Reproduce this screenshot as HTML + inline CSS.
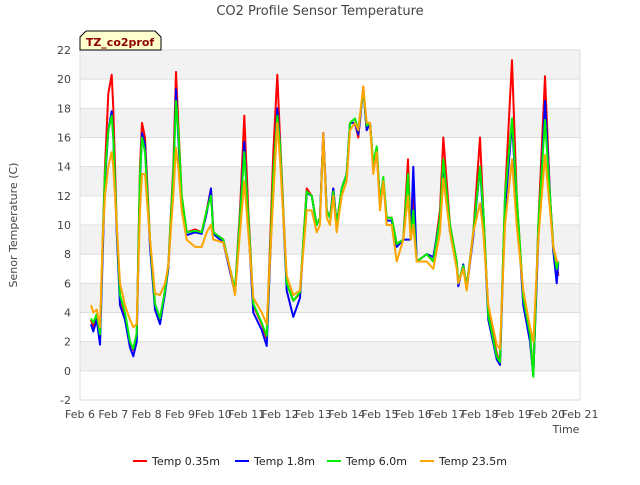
<!DOCTYPE html>
<html><head><meta charset="utf-8"><style>
body{margin:0;background:#fff;}
svg text{font-family:"DejaVu Sans","Liberation Sans",sans-serif;}
</style></head><body>
<svg id="chart" width="640" height="480" viewBox="0 0 640 480" xmlns="http://www.w3.org/2000/svg">
<text x="320" y="15" text-anchor="middle" font-size="13" fill="#444">CO2 Profile Sensor Temperature</text>
<g id="bands"></g>
<g id="yticks"></g>
<g id="xticks"></g>
<g id="series"></g>
<rect x="80" y="50" width="500" height="350" fill="none" stroke="#ddd"/>
<path d="M80,50 L80,37 L86,31 L155,31 L161,37 L161,50 Z" fill="#ffffcc" stroke="#000" stroke-width="1"/>
<text x="120" y="46" text-anchor="middle" font-size="11" font-weight="bold" fill="#8b0000">TZ_co2prof</text>
<text x="0" y="0" transform="translate(17,225) rotate(-90)" text-anchor="middle" font-size="11" fill="#444">Senor Temperature (C)</text>
<text x="566" y="433" text-anchor="middle" font-size="11" fill="#444">Time</text>
<g id="legend"></g>
</svg>
<script>
const xTickLabels=["Feb 6","Feb 7","Feb 8","Feb 9","Feb 10","Feb 11","Feb 12","Feb 13","Feb 14","Feb 15","Feb 16","Feb 17","Feb 18","Feb 19","Feb 20","Feb 21"];
const yTickValues=[-2,0,2,4,6,8,10,12,14,16,18,20,22];
const seriesNames=["Temp 0.35m","Temp 1.8m","Temp 6.0m","Temp 23.5m"];
const days=[0.33,0.4,0.5,0.6,0.68,0.75,0.85,0.95,1.0,1.1,1.2,1.35,1.5,1.6,1.7,1.8,1.86,1.95,2.1,2.25,2.4,2.55,2.65,2.8,2.88,2.95,3.05,3.2,3.45,3.65,3.8,3.93,4.0,4.3,4.5,4.65,4.8,4.93,5.05,5.2,5.45,5.6,5.8,5.92,6.0,6.2,6.4,6.6,6.8,6.95,7.1,7.2,7.3,7.4,7.5,7.6,7.7,7.85,8.0,8.1,8.25,8.35,8.5,8.6,8.7,8.8,8.9,9.0,9.1,9.2,9.35,9.5,9.7,9.84,9.92,10.0,10.1,10.4,10.6,10.8,10.9,11.1,11.3,11.35,11.5,11.6,11.8,12.0,12.1,12.25,12.5,12.6,12.75,12.96,13.1,13.3,13.5,13.6,13.75,13.95,14.1,14.2,14.3,14.35];
const temp035=[3.5,3.0,3.8,2.2,9,14,19,20.3,18,10,5,3.8,2.0,1.4,2.5,14,17,16,9,4.5,3.5,5.5,7.2,14,20.5,17,12,9.5,9.7,9.5,11,12.5,9.5,9,7,5.5,11,17.5,11,4.5,3.2,2.2,15,20.3,16,6,4.8,5.3,12.5,12,10,10.5,16.3,11,10.5,12.5,10,12.5,13.5,17,17,16,19.5,16.5,17,14,15.3,11.5,13,10.5,10.5,8.7,9,14.5,9,12.5,7.5,8,7.5,11,16,10,7.5,6,7.2,5.8,9.5,16,11,4,1.2,0.5,12,21.3,12,5,2.5,-0.3,10,20.2,12,8.5,7.5,6.5];
const temp18=[3.2,2.7,3.5,1.8,8,13,16.5,17.8,16,9.5,4.5,3.5,1.6,1.0,2.0,13,16.3,15.5,8.5,4.2,3.2,5.3,7.0,13,19.3,16,11.5,9.3,9.5,9.4,10.8,12.5,9.4,8.8,6.8,5.3,10.5,15.7,10,4.0,2.8,1.7,13,18,15.5,5.5,3.7,5.0,12.2,12,10,10.5,16.3,11,10.5,12.5,10,12.5,13.5,17,17,16.2,19.3,16.5,17,14,15,11.5,13,10.3,10.3,8.5,9,9,9,14,7.5,8,7.8,10.5,14,9.5,7.3,5.8,7.3,5.6,9.2,14,10.5,3.5,0.8,0.4,11,17,11.5,4.5,2,-0.3,9,18.5,12,8.2,6,7.5];
const temp60=[3.6,3.3,3.9,2.5,9,13.5,16.5,17.5,16,10,5.2,4,2.0,1.5,2.6,13.5,16,15,9,4.6,3.6,5.5,7.2,13.5,18.5,16.5,12,9.5,9.6,9.5,11,12,9.5,9,7,5.6,10.5,15,10.5,4.6,3.3,2.4,13.5,17.5,15.5,6,4.8,5.4,12.3,12,10,10.5,16,11,10.5,12.3,10,12.5,13.5,17,17.3,16.5,19.3,16.8,17,14.2,15.4,11.5,13.3,10.5,10.5,8.7,9,13.5,9,11,7.5,8,7.5,10.5,14.5,10,7.5,6,7.2,5.8,9.5,14,11,3.8,1.0,0.6,12,17.3,12,5,2.5,-0.4,10,17.2,12,8.5,7,7.5];
const temp235=[4.5,4.0,4.2,3.0,9,12,14,15,14,10,6,4.5,3.5,3.0,3.2,11,13.5,13.5,9,5.3,5.2,6,7.2,12,15.3,14,11,9,8.5,8.5,9.5,10,9,8.8,7,5.2,9.5,13,9.5,5,4,3.2,12,17,14.5,6.5,5.2,5.5,11,11,9.5,10,16.3,10.5,10,12,9.5,12,13,16.5,17,16.5,19.5,17,17,13.5,15,11,13,10,10,7.5,9,12,9,10,7.5,7.5,7,9.5,13.2,9.5,7,6,7,5.5,9.5,11.5,9.5,4.5,1.8,1.5,10,14.5,10,5.5,3,2,9,14.8,11,8.5,7.5,7.5];
const colors=["#ff0000","#0000ff","#00ee00","#ffa500"];
const seriesData=[temp035,temp18,temp60,temp235];
const NS="http://www.w3.org/2000/svg";
const X0=80,X1=580,Y0=400,Y1=50,yMin=-2,yMax=22,dMax=15;
function xs(d){return X0+(X1-X0)*d/dMax;}
function ys(v){return Y0-(Y0-Y1)*(v-yMin)/(yMax-yMin);}
function mk(tag,attrs,parent){const e=document.createElementNS(NS,tag);for(const k in attrs)e.setAttribute(k,attrs[k]);parent.appendChild(e);return e;}
const bands=document.getElementById('bands');
for(let v=0;v<22;v+=4){
  const r=mk('rect',{x:X0,y:ys(v+2),width:X1-X0,height:ys(v)-ys(v+2),fill:'#f2f2f2'},bands);
  
  
}
const yt=document.getElementById('yticks');
yTickValues.forEach(v=>{
  const l=mk('line',{x1:X0,x2:X1,y1:ys(v),y2:ys(v),stroke:'#ddd'},yt);
  
  
  const t=mk('text',{x:71,y:ys(v)+4,'text-anchor':'end','font-size':11,fill:'#444'},yt);
  t.textContent=v;
  
  
});
const xt=document.getElementById('xticks');
xTickLabels.forEach((s,i)=>{
  const t=mk('text',{x:xs(i),y:418,'text-anchor':'middle','font-size':11,fill:'#444'},xt);
  t.textContent=s;
  
  
});
const sg=document.getElementById('series');
seriesData.forEach((arr,si)=>{
  const pts=arr.map((v,i)=>xs(days[i]).toFixed(1)+','+ys(v).toFixed(1)).join(' ');
  const p=mk('polyline',{points:pts,fill:'none',stroke:colors[si],'stroke-width':2,'stroke-linejoin':'round'},sg);
  
  
});
const lg=document.getElementById('legend');
const lx=[133,235,327,420];
seriesNames.forEach((n,i)=>{
  const l=mk('line',{x1:lx[i],x2:lx[i]+14,y1:461,y2:461,stroke:colors[i],'stroke-width':2},lg);
  
  
  const t=mk('text',{x:lx[i]+19,y:465,'font-size':11,fill:'#222'},lg);
  t.textContent=n;
  
  
});
</script>
</body></html>
